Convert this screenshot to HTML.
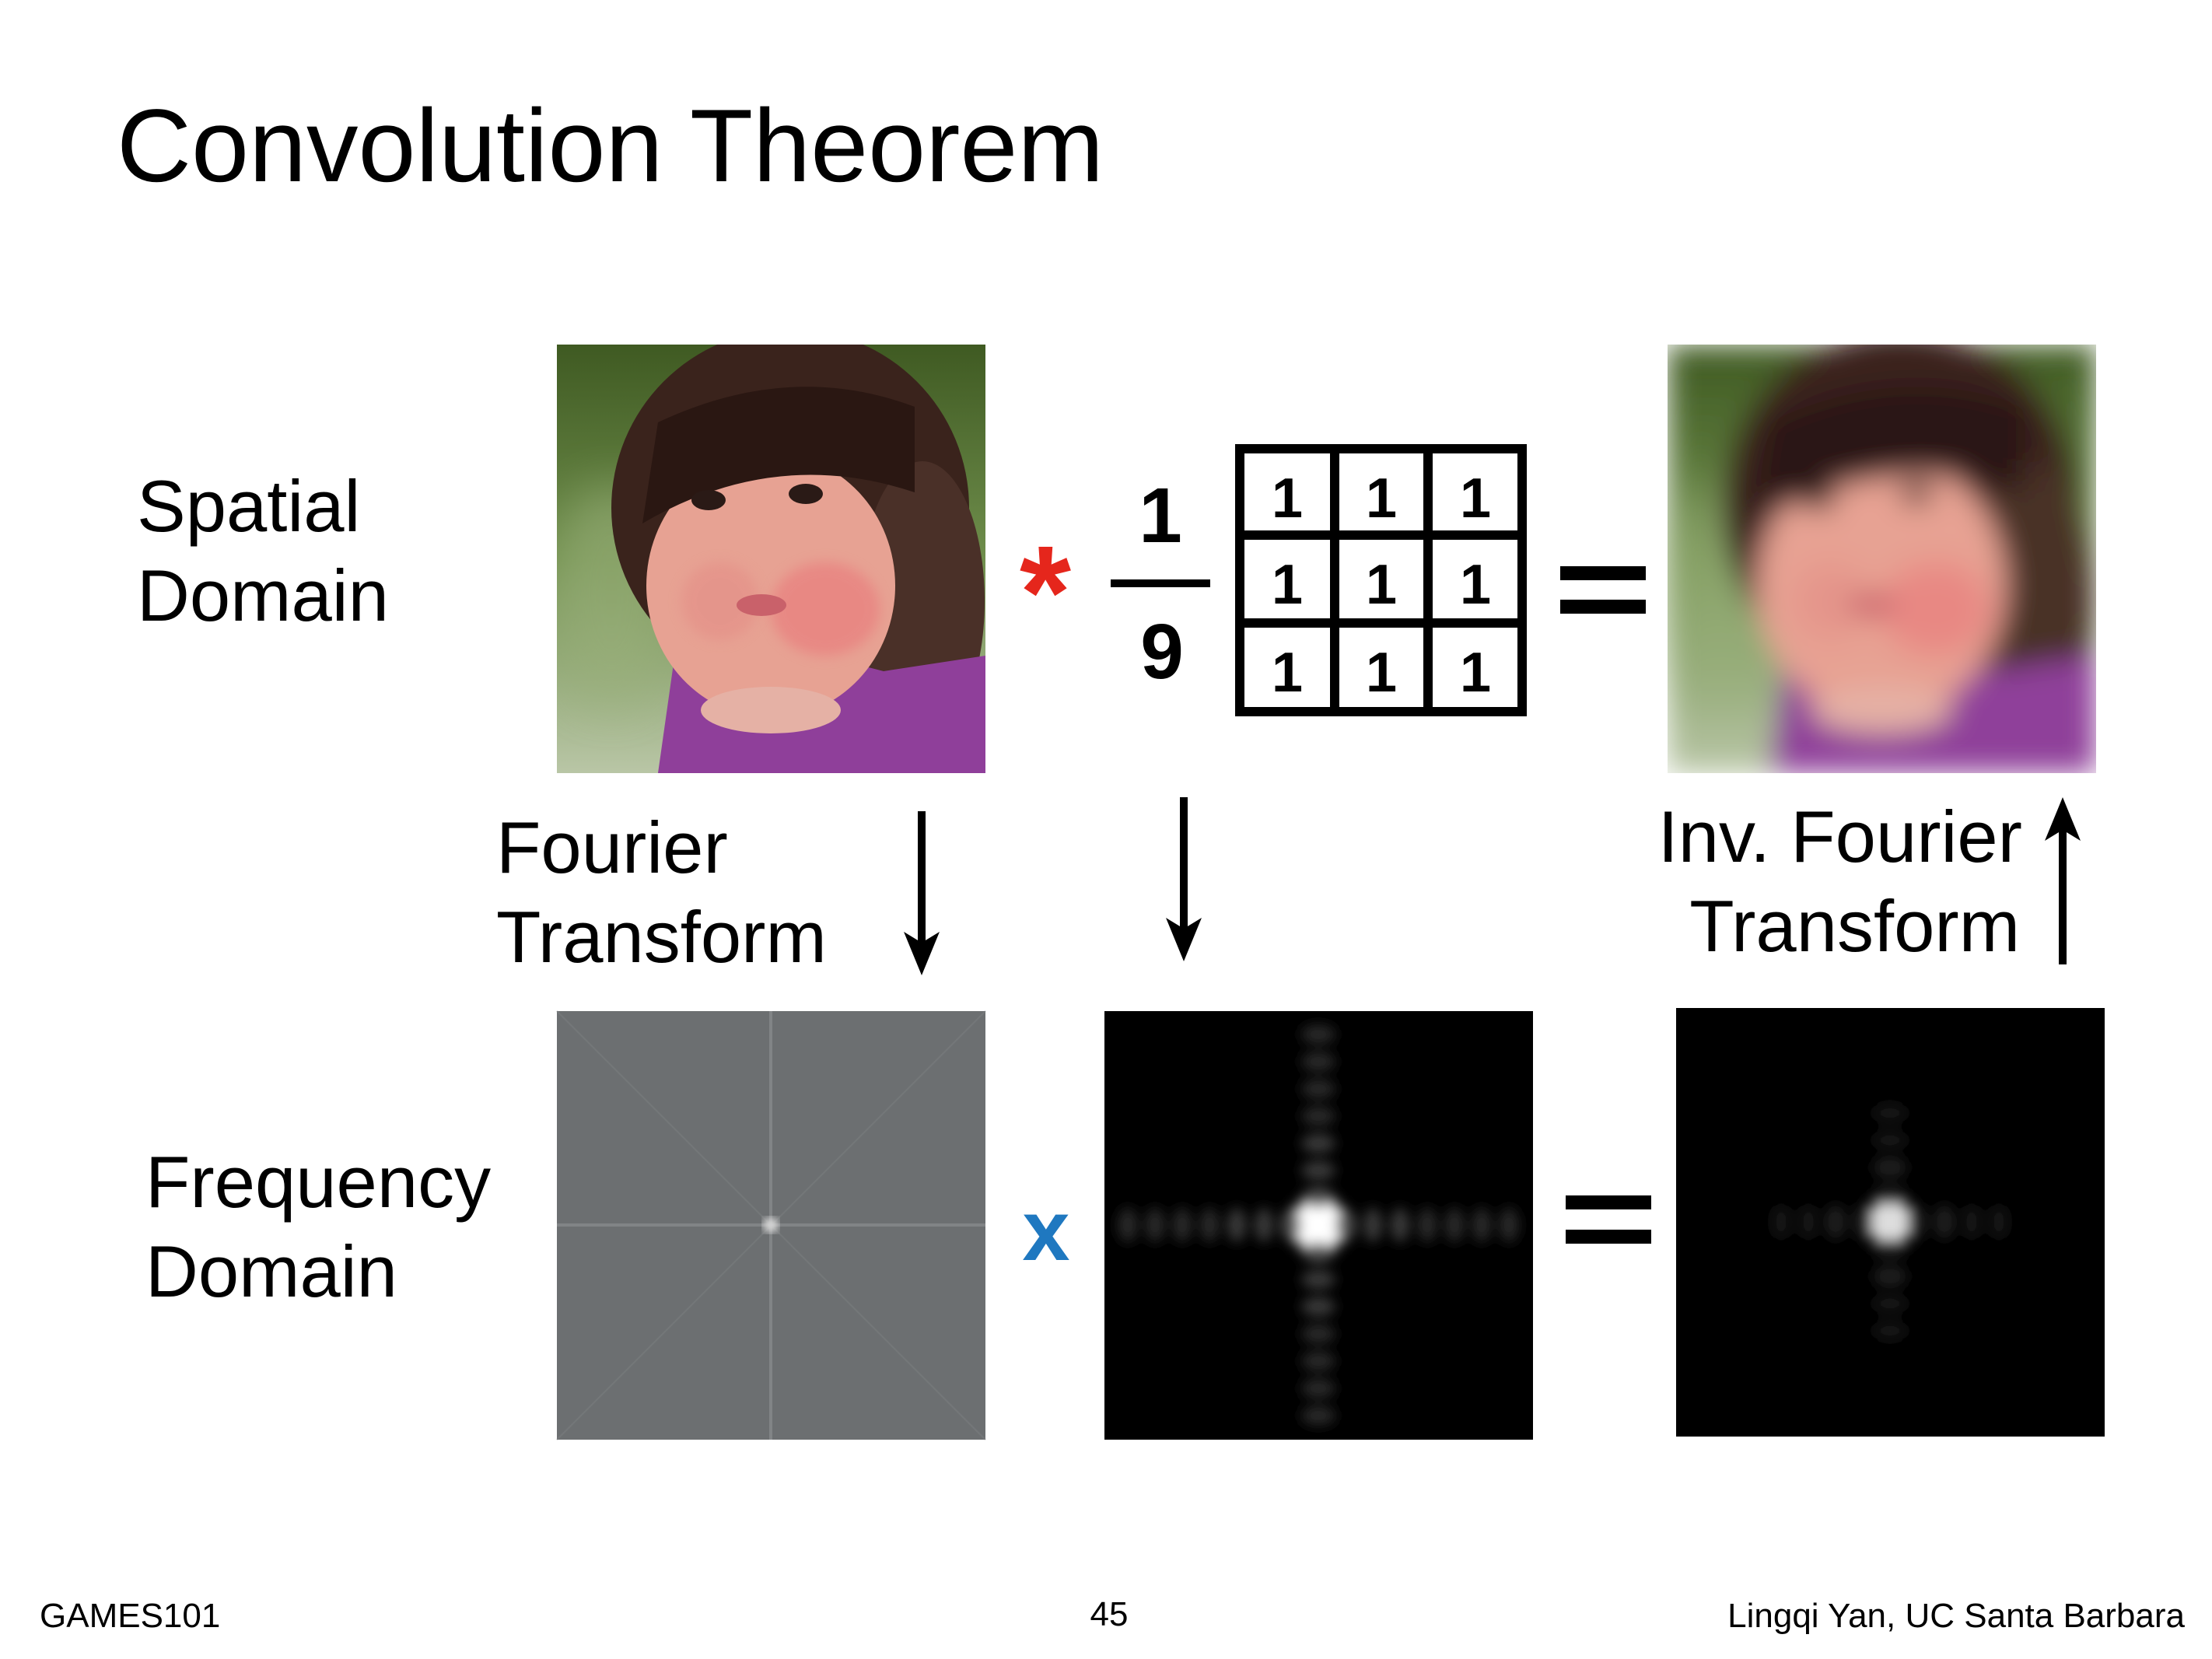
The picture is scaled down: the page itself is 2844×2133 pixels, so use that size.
<!DOCTYPE html>
<html><head><meta charset="utf-8"><style>
html,body{margin:0;padding:0;background:#fff;width:2844px;height:2133px;overflow:hidden}
text{font-family:"Liberation Sans",sans-serif}
</style></head><body>
<svg width="2844" height="2133" viewBox="0 0 2844 2133" xmlns="http://www.w3.org/2000/svg">
<defs>
<filter id="b8" x="-20%" y="-20%" width="140%" height="140%"><feGaussianBlur stdDeviation="8"/></filter>
<filter id="b20" x="-10%" y="-10%" width="120%" height="120%"><feGaussianBlur stdDeviation="18"/></filter>
<filter id="b4"><feGaussianBlur stdDeviation="5"/></filter>
<filter id="b30" x="-30%" y="-30%" width="160%" height="160%"><feGaussianBlur stdDeviation="30"/></filter>
<linearGradient id="bg" x1="0" y1="0" x2="0" y2="1">
<stop offset="0" stop-color="#3f5a22"/><stop offset="0.5" stop-color="#6f8e4c"/><stop offset="1" stop-color="#b9c6a6"/></linearGradient>
<clipPath id="clipP"><rect x="0" y="0" width="551" height="551"/></clipPath>
<g id="baby">
<rect x="0" y="0" width="551" height="551" fill="url(#bg)"/>
<ellipse cx="70" cy="320" rx="80" ry="140" fill="#9ab07a" opacity="0.6" filter="url(#b30)"/>
<ellipse cx="300" cy="210" rx="230" ry="230" fill="#3a231c"/>
<ellipse cx="470" cy="330" rx="80" ry="180" fill="#4a3028"/>
<path d="M130 551 L150 410 Q270 380 420 420 L551 400 L551 551 Z" fill="#8f3f9a"/>
<ellipse cx="275" cy="310" rx="160" ry="170" fill="#e7a293"/>
<ellipse cx="345" cy="340" rx="70" ry="60" fill="#e9787a" opacity="0.6" filter="url(#b8)"/>
<ellipse cx="210" cy="330" rx="50" ry="50" fill="#e38a84" opacity="0.5" filter="url(#b8)"/>
<path d="M110 230 Q280 130 460 190 L460 80 Q300 20 130 100 Z" fill="#2a1712"/>
<ellipse cx="195" cy="200" rx="22" ry="13" fill="#2a1a16"/>
<ellipse cx="320" cy="192" rx="22" ry="13" fill="#2a1a16"/>
<ellipse cx="263" cy="335" rx="32" ry="14" fill="#c9616a"/>
<ellipse cx="275" cy="470" rx="90" ry="30" fill="#e5b1a5"/>
</g>
</defs>

<text x="150" y="233" font-size="133" fill="#000">Convolution Theorem</text>

<text x="176" y="683" font-size="94">Spatial</text>
<text x="176" y="798" font-size="94">Domain</text>
<text x="187" y="1552" font-size="94">Frequency</text>
<text x="187" y="1667" font-size="94">Domain</text>

<text x="638" y="1122" font-size="94">Fourier</text>
<text x="638" y="1237" font-size="94">Transform</text>
<text x="2600" y="1108" font-size="94" text-anchor="end">Inv. Fourier</text>
<text x="2597" y="1223" font-size="94" text-anchor="end">Transform</text>

<g transform="translate(716,443)" clip-path="url(#clipP)"><use href="#baby"/></g>
<g transform="translate(2144,443)" clip-path="url(#clipP)"><g filter="url(#b20)"><use href="#baby"/></g></g>

<text x="1344" y="820" font-size="170" font-weight="bold" fill="#e5261c" text-anchor="middle">*</text>
<text x="1492" y="697" font-size="100" font-weight="bold" text-anchor="middle">1</text>
<rect x="1428" y="745" width="128" height="10" fill="#000"/>
<text x="1494" y="872" font-size="100" font-weight="bold" text-anchor="middle">9</text>
<g stroke="#000" stroke-width="12" fill="none">
<rect x="1594" y="577" width="363" height="338"/>
<line x1="1716" y1="577" x2="1716" y2="915"/>
<line x1="1836" y1="577" x2="1836" y2="915"/>
<line x1="1594" y1="688" x2="1957" y2="688"/>
<line x1="1594" y1="801" x2="1957" y2="801"/>
</g>
<g font-size="72" font-weight="bold" text-anchor="middle">
<text x="1655" y="665">1</text><text x="1776" y="665">1</text><text x="1897" y="665">1</text>
<text x="1655" y="776">1</text><text x="1776" y="776">1</text><text x="1897" y="776">1</text>
<text x="1655" y="889">1</text><text x="1776" y="889">1</text><text x="1897" y="889">1</text>
</g>
<rect x="2006" y="728" width="110" height="18" fill="#000"/>
<rect x="2006" y="771" width="110" height="18" fill="#000"/>
<rect x="2013" y="1537" width="110" height="18" fill="#000"/>
<rect x="2013" y="1581" width="110" height="18" fill="#000"/>

<g fill="#000">
<rect x="1180" y="1043" width="10" height="170"/>
<path d="M1162 1198 L1185 1254 L1208 1198 L1185 1212 Z"/>
<rect x="1517" y="1025" width="10" height="170"/>
<path d="M1499 1180 L1522 1236 L1545 1180 L1522 1194 Z"/>
<rect x="2647" y="1065" width="10" height="175"/>
<path d="M2629 1081 L2652 1025 L2675 1081 L2652 1067 Z"/>
</g>

<text x="1345" y="1620" font-size="110" font-weight="bold" fill="#1f78c0" text-anchor="middle">x</text>

<g transform="translate(716,1300)">
<rect width="551" height="551" fill="#6c6f71"/>
<g stroke="#8a8d8f" stroke-width="4" opacity="0.7"><line x1="275" y1="0" x2="275" y2="551"/><line x1="0" y1="275" x2="551" y2="275"/></g>
<g stroke="#7c7f81" stroke-width="2" opacity="0.5"><line x1="0" y1="0" x2="551" y2="551"/><line x1="551" y1="0" x2="0" y2="551"/></g>
<circle cx="275" cy="275" r="10" fill="#d8d8d8" filter="url(#b4)"/>
</g>

<g transform="translate(1420,1300)">
<rect width="551" height="551" fill="#000"/>
<g filter="url(#b8)">
<rect x="248" y="248" width="54" height="54" fill="#fff"/>
<g fill="#555">
<ellipse cx="310" cy="275" rx="12" ry="22"/><ellipse cx="240" cy="275" rx="12" ry="22"/>
<ellipse cx="275" cy="310" rx="22" ry="12"/><ellipse cx="275" cy="240" rx="22" ry="12"/>
</g>
<g fill="#3a3a3a">
<ellipse cx="345" cy="275" rx="12" ry="22"/><ellipse cx="205" cy="275" rx="12" ry="22"/>
<ellipse cx="380" cy="275" rx="12" ry="22"/><ellipse cx="170" cy="275" rx="12" ry="22"/>
<ellipse cx="275" cy="345" rx="22" ry="12"/><ellipse cx="275" cy="205" rx="22" ry="12"/>
<ellipse cx="275" cy="380" rx="22" ry="12"/><ellipse cx="275" cy="170" rx="22" ry="12"/>
</g>
<g fill="#2a2a2a">
<ellipse cx="415" cy="275" rx="12" ry="22"/><ellipse cx="135" cy="275" rx="12" ry="22"/>
<ellipse cx="450" cy="275" rx="12" ry="22"/><ellipse cx="100" cy="275" rx="12" ry="22"/>
<ellipse cx="485" cy="275" rx="12" ry="22"/><ellipse cx="65" cy="275" rx="12" ry="22"/>
<ellipse cx="520" cy="275" rx="12" ry="22"/><ellipse cx="30" cy="275" rx="12" ry="22"/>
<ellipse cx="275" cy="415" rx="22" ry="12"/><ellipse cx="275" cy="135" rx="22" ry="12"/>
<ellipse cx="275" cy="450" rx="22" ry="12"/><ellipse cx="275" cy="100" rx="22" ry="12"/>
<ellipse cx="275" cy="485" rx="22" ry="12"/><ellipse cx="275" cy="65" rx="22" ry="12"/>
<ellipse cx="275" cy="520" rx="22" ry="12"/><ellipse cx="275" cy="30" rx="22" ry="12"/>
</g>
</g>
</g>
<g transform="translate(2155,1296)">
<rect width="551" height="551" fill="#000"/>
<g filter="url(#b8)">
<rect x="252" y="252" width="46" height="46" fill="#ddd"/>
<g fill="#222">
<ellipse cx="310" cy="275" rx="12" ry="22"/><ellipse cx="240" cy="275" rx="12" ry="22"/>
<ellipse cx="275" cy="310" rx="22" ry="12"/><ellipse cx="275" cy="240" rx="22" ry="12"/>
<ellipse cx="345" cy="275" rx="12" ry="22"/><ellipse cx="205" cy="275" rx="12" ry="22"/>
<ellipse cx="275" cy="345" rx="22" ry="12"/><ellipse cx="275" cy="205" rx="22" ry="12"/>
</g>
<g fill="#141414">
<ellipse cx="380" cy="275" rx="12" ry="22"/><ellipse cx="170" cy="275" rx="12" ry="22"/>
<ellipse cx="415" cy="275" rx="12" ry="22"/><ellipse cx="135" cy="275" rx="12" ry="22"/>
<ellipse cx="275" cy="380" rx="22" ry="12"/><ellipse cx="275" cy="170" rx="22" ry="12"/>
<ellipse cx="275" cy="415" rx="22" ry="12"/><ellipse cx="275" cy="135" rx="22" ry="12"/>
</g>
</g>
</g>

<text x="51" y="2092" font-size="44">GAMES101</text>
<text x="1426" y="2090" font-size="44" text-anchor="middle">45</text>
<text x="2809" y="2092" font-size="44" text-anchor="end">Lingqi Yan, UC Santa Barbara</text>
</svg>
</body></html>
